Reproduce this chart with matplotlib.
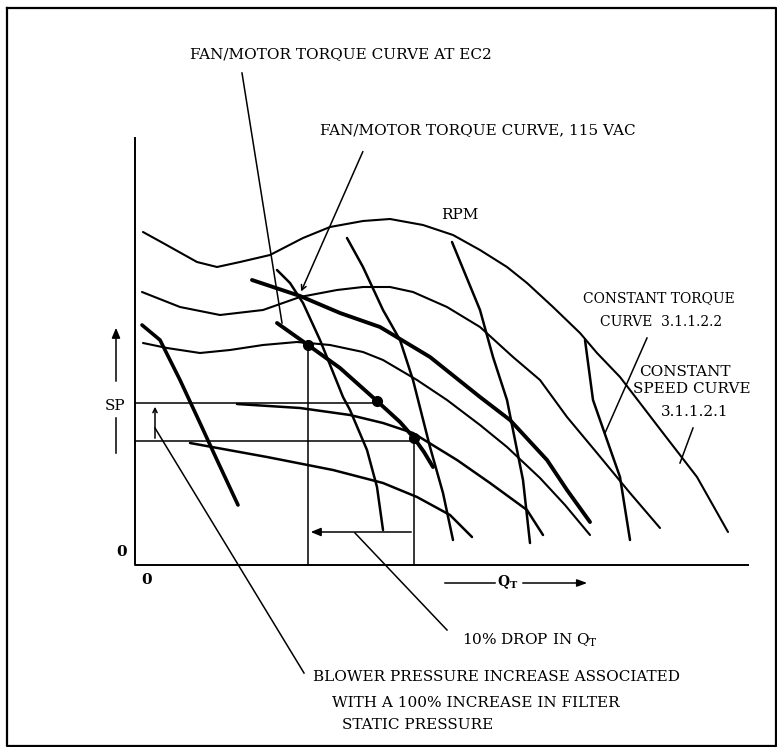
import matplotlib
matplotlib.use("Agg")
import matplotlib.pyplot as plt

# Diagram traced in page pixels (x right, y down)
FRAME_X = [7, 776, 776, 7, 7]
FRAME_Y = [8, 8, 746, 746, 8]

# fan curves at different RPM (top to bottom)
rpm1_x = [143, 163, 197, 217, 240, 270, 303, 330, 363, 390, 423, 453, 480, 507, 527, 553, 580, 597, 620, 640, 663, 697, 728]
rpm1_y = [232, 243, 262, 267, 262, 255, 238, 227, 221, 219, 225, 235, 250, 267, 283, 307, 333, 353, 377, 403, 433, 477, 532]
rpm2_x = [142, 180, 220, 263, 300, 337, 363, 390, 413, 447, 480, 513, 540, 567, 597, 630, 660]
rpm2_y = [292, 307, 315, 310, 297, 290, 287, 287, 292, 307, 327, 357, 380, 417, 453, 493, 528]
rpm3_x = [143, 167, 200, 230, 263, 297, 330, 363, 383, 417, 447, 480, 507, 540, 565, 590]
rpm3_y = [343, 348, 353, 350, 345, 342, 345, 352, 360, 380, 400, 425, 447, 478, 505, 535]
rpm4_x = [237, 300, 350, 383, 413, 457, 490, 527, 543]
rpm4_y = [404, 408, 415, 423, 433, 460, 483, 510, 535]
rpm5_x = [190, 267, 333, 383, 417, 450, 472]
rpm5_y = [443, 457, 470, 483, 497, 515, 537]

# fan / motor torque curves
vac_x = [252, 300, 340, 380, 430, 480, 510, 547, 567, 590]
vac_y = [280, 296, 313, 327, 357, 397, 420, 460, 490, 522]
ec2_x = [277, 308, 340, 377, 400, 414, 424, 433]
ec2_y = [323, 345, 368, 401, 422, 438, 452, 467]

# steep system curves
sysA_x = [142, 160, 180, 200, 217, 238]
sysA_y = [325, 340, 380, 423, 460, 505]
sysB_x = [277, 290, 303, 320, 343, 350, 367, 377, 383]
sysB_y = [270, 283, 303, 340, 397, 410, 450, 487, 530]
sysC_x = [347, 363, 383, 400, 413, 430, 443, 453]
sysC_y = [238, 267, 310, 340, 380, 447, 493, 540]
sysD_x = [452, 480, 493, 507, 513, 523, 530]
sysD_y = [242, 310, 357, 400, 430, 480, 543]
sysE_x = [585, 593, 607, 620, 630]
sysE_y = [340, 400, 440, 477, 540]

# operating points
dot_x = [308, 377, 414]
dot_y = [345, 401, 438]

fig = plt.figure(figsize=(7.77, 7.47), dpi=100)
ax = fig.add_axes([0, 0, 1, 1])
ax.set_xlim(0, 777)
ax.set_ylim(747, 0)
ax.axis("off")

k = "black"
ax.plot(FRAME_X, FRAME_Y, color=k, lw=1.6)

# axes of the sketch
ax.plot([135, 135, 748], [138, 565, 565], color=k, lw=1.4)

rnd = dict(solid_joinstyle="round", solid_capstyle="round")
for xs, ys in [(rpm1_x, rpm1_y), (rpm2_x, rpm2_y), (rpm3_x, rpm3_y)]:
    ax.plot(xs, ys, color=k, lw=1.5, **rnd)
for xs, ys in [(rpm4_x, rpm4_y), (rpm5_x, rpm5_y)]:
    ax.plot(xs, ys, color=k, lw=1.8, **rnd)

for xs, ys in [(sysB_x, sysB_y), (sysC_x, sysC_y), (sysD_x, sysD_y), (sysE_x, sysE_y)]:
    ax.plot(xs, ys, color=k, lw=1.8, **rnd)
ax.plot(sysA_x, sysA_y, color=k, lw=2.6, **rnd)

ax.plot(vac_x, vac_y, color=k, lw=2.8, **rnd)
ax.plot(ec2_x, ec2_y, color=k, lw=2.8, **rnd)
ax.plot(dot_x, dot_y, "o", color=k, ms=7)

# construction lines
thin = 1.1
ax.plot([135, dot_x[1]], [dot_y[1] + 2, dot_y[1] + 2], color=k, lw=thin)
ax.plot([135, dot_x[2]], [dot_y[2] + 3, dot_y[2] + 3], color=k, lw=thin)
ax.plot([dot_x[0], dot_x[0]], [dot_y[0], 565], color=k, lw=thin)
ax.plot([dot_x[2], dot_x[2]], [dot_y[2], 565], color=k, lw=thin)

# 10 % drop arrow and pressure increase arrow
ax.annotate("", xy=(308, 532), xytext=(414, 532),
            arrowprops=dict(arrowstyle="-|>,head_length=0.6,head_width=0.25", color=k, lw=thin))
ax.annotate("", xy=(155, 404), xytext=(155, 441),
            arrowprops=dict(arrowstyle="->,head_length=0.3,head_width=0.15", color=k, lw=thin))

# SP and Q_T axis labels
font = dict(family="DejaVu Serif", color=k)
fs = 11
ax.annotate("", xy=(116, 325), xytext=(116, 384),
            arrowprops=dict(arrowstyle="-|>,head_length=0.6,head_width=0.25", color=k, lw=thin))
ax.plot([116, 116], [418, 453], color=k, lw=thin)
ax.text(115, 406, "SP", ha="center", va="center", fontsize=fs, **font)
ax.text(122, 552, "0", ha="center", va="center", fontsize=fs, weight="bold", **font)
ax.text(147, 580, "0", ha="center", va="center", fontsize=fs, weight="bold", **font)
ax.plot([445, 495], [583, 583], color=k, lw=thin)
ax.annotate("", xy=(590, 583), xytext=(520, 583),
            arrowprops=dict(arrowstyle="-|>,head_length=0.6,head_width=0.22", color=k, lw=thin))
ax.text(508, 582, r"Q$_\mathregular{T}$", ha="center", va="center", fontsize=10, weight="bold", **font)

# annotations and leaders
ax.text(190, 54, "FAN/MOTOR TORQUE CURVE AT EC2", ha="left", va="center", fontsize=fs, **font)
ax.plot([242, 282], [73, 323], color=k, lw=thin)
ax.text(320, 130, "FAN/MOTOR TORQUE CURVE, 115 VAC", ha="left", va="center", fontsize=fs, **font)
ax.annotate("", xy=(300, 294), xytext=(364, 149),
            arrowprops=dict(arrowstyle="->,head_length=0.35,head_width=0.18", color=k, lw=thin))
ax.text(460, 215, "RPM", ha="center", va="center", fontsize=fs, **font)
ax.text(659, 298, "CONSTANT TORQUE", ha="center", va="center", fontsize=10, **font)
ax.text(661, 322, "CURVE  3.1.1.2.2", ha="center", va="center", fontsize=10, **font)
ax.plot([647, 605], [338, 433], color=k, lw=thin)
ax.text(685, 372, "CONSTANT", ha="center", va="center", fontsize=fs, **font)
ax.text(692, 389, "SPEED CURVE", ha="center", va="center", fontsize=fs, **font)
ax.text(695, 412, "3.1.1.2.1", ha="center", va="center", fontsize=fs, **font)
ax.plot([693, 680], [428, 463], color=k, lw=thin)
ax.text(462, 640, r"10% DROP IN Q$_\mathregular{T}$", ha="left", va="center", fontsize=fs, **font)
ax.plot([355, 447], [533, 630], color=k, lw=thin)
ax.text(313, 677, "BLOWER PRESSURE INCREASE ASSOCIATED", ha="left", va="center", fontsize=fs, **font)
ax.text(332, 703, "WITH A 100% INCREASE IN FILTER", ha="left", va="center", fontsize=fs, **font)
ax.text(342, 725, "STATIC PRESSURE", ha="left", va="center", fontsize=fs, **font)
ax.plot([155, 304], [428, 673], color=k, lw=thin)

fig.savefig("out.png", dpi=100)
plt.close(fig)
